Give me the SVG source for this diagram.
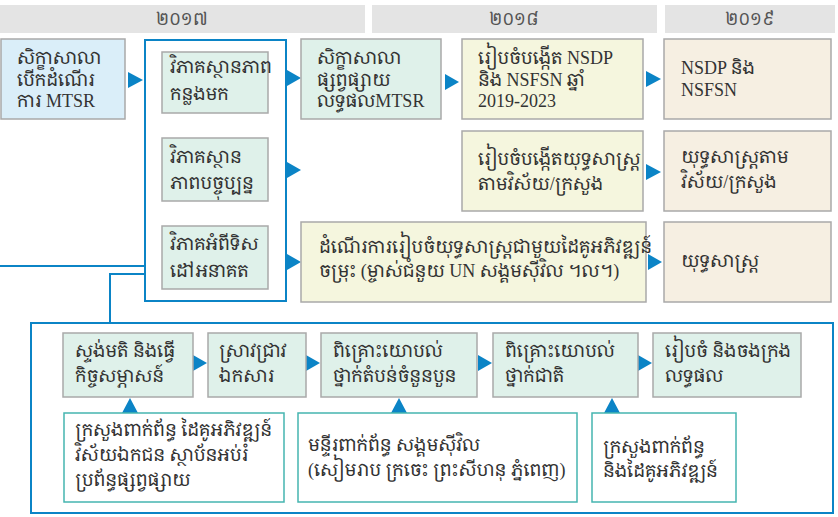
<svg xmlns="http://www.w3.org/2000/svg" width="838" height="517" viewBox="0 0 838 517">
<defs>
<style>
.hdr{fill:#e4e4e4}
.ht{font-family:"Liberation Serif","Noto Serif Khmer","Noto Sans Khmer",serif;font-size:17px;fill:#555;text-anchor:middle}
.t{font-family:"Liberation Serif","Noto Serif Khmer","Noto Sans Khmer","Khmer OS",serif;font-size:18px;fill:#333}
.g{stroke:#a9a9a9;stroke-width:1.5}
.blue{fill:#daeef9}
.mint{fill:#dff1ea}
.yel{fill:#f5f6de}
.bei{fill:#f6efe2}
.teal{fill:#fff;stroke:#45b5b0;stroke-width:1.5}
.ln{fill:none;stroke:#0b84c6;stroke-width:2}
.ar{fill:#0b84c6}
</style>
</defs>
<rect width="838" height="517" fill="#fff"/>
<g id="header">
<rect class="hdr" x="0" y="5" width="365" height="28"/>
<rect class="hdr" x="372" y="5" width="285" height="28"/>
<rect class="hdr" x="665" y="5" width="170" height="28"/>
<text class="ht" x="182" y="25">២០១៧</text>
<text class="ht" x="514" y="25">២០១៨</text>
<text class="ht" x="750" y="25">២០១៩</text>
</g>
<g id="connectors">
<rect class="ln" x="145" y="40" width="141" height="261"/>
<rect class="ln" x="31" y="323" width="802" height="190"/>
<path class="ln" d="M0 266H145M145 274H110V323"/>
<path class="ar" d="M128 72L143 80L128 88Z"/>
<path class="ar" d="M287 70L301 78L287 86Z"/>
<path class="ar" d="M287 162L301 170L287 178Z"/>
<path class="ar" d="M287 254L301 262L287 270Z"/>
<path class="ar" d="M445 74L459 82L445 90Z"/>
<path class="ar" d="M646 71L661 79L646 87Z"/>
<path class="ar" d="M646 164L661 172L646 180Z"/>
<path class="ar" d="M648 254L662 262L648 270Z"/>
<path class="ar" d="M193 355L207 363L193 371Z"/>
<path class="ar" d="M306 355L320 363L306 371Z"/>
<path class="ar" d="M478 355L492 363L478 371Z"/>
<path class="ar" d="M638 355L652 363L638 371Z"/>
<path class="ar" d="M122 413L130 398L138 413Z"/>
<path class="ar" d="M391 413L399 398L407 413Z"/>
<path class="ar" d="M604 413L612 398L620 413Z"/>
</g>
<g id="n1"><rect class="blue g" x="1" y="39" width="124" height="80"/>
<text class="t" x="17" y="64">សិក្ខាសាលា</text><text class="t" x="17" y="86">បើកដំណើរ</text><text class="t" x="17" y="107">ការ MTSR</text></g>
<g id="n2"><rect class="mint g" x="162" y="52" width="106" height="61"/>
<text class="t" x="170" y="73">វិភាគស្ថានភាព</text><text class="t" x="170" y="100">កន្លងមក</text></g>
<g id="n3"><rect class="mint g" x="162" y="138" width="106" height="63"/>
<text class="t" x="170" y="163">វិភាគស្ថាន</text><text class="t" x="170" y="189">ភាពបច្ចុប្បន្ន</text></g>
<g id="n4"><rect class="mint g" x="162" y="226" width="106" height="63"/>
<text class="t" x="170" y="250">វិភាគអំពីទិស</text><text class="t" x="170" y="277">ដៅអនាគត</text></g>
<g id="n5"><rect class="mint g" x="301" y="39" width="140" height="80"/>
<text class="t" x="317" y="64">សិក្ខាសាលា</text><text class="t" x="317" y="86">ផ្សព្វផ្សាយ</text><text class="t" x="317" y="107">លទ្ធផលMTSR</text></g>
<g id="n6"><rect class="yel g" x="462" y="39" width="181" height="80"/>
<text class="t" x="478" y="64">រៀបចំបង្កើត NSDP</text><text class="t" x="478" y="86">និង NSFSN ឆ្នាំ</text><text class="t" x="478" y="107">2019-2023</text></g>
<g id="n7"><rect class="yel g" x="462" y="131" width="181" height="80"/>
<text class="t" x="478" y="165">រៀបចំបង្កើតយុទ្ធសាស្ត្រ</text><text class="t" x="478" y="190">តាមវិស័យ/ក្រសួង</text></g>
<g id="n8"><rect class="bei g" x="664" y="39" width="167" height="80"/>
<text class="t" x="681" y="74">NSDP និង</text><text class="t" x="681" y="96">NSFSN</text></g>
<g id="n9"><rect class="bei g" x="664" y="131" width="167" height="80"/>
<text class="t" x="681" y="163">យុទ្ធសាស្ត្រតាម</text><text class="t" x="681" y="188">វិស័យ/ក្រសួង</text></g>
<g id="n10"><rect class="yel g" x="301" y="222" width="345" height="80"/>
<text class="t" x="319" y="253">ដំណើរការរៀបចំយុទ្ធសាស្ត្រជាមួយដៃគូអភិវឌ្ឍន៍</text><text class="t" x="319" y="277">ចម្រុះ (ម្ចាស់ជំនួយ UN សង្គមស៊ីវិល ។ល។)</text></g>
<g id="n11"><rect class="bei g" x="664" y="222" width="167" height="80"/>
<text class="t" x="681" y="267">យុទ្ធសាស្ត្រ</text></g>
<g id="n12"><rect class="mint g" x="63" y="333" width="130" height="64"/>
<text class="t" x="75" y="357">ស្ទង់មតិ និងធ្វើ</text><text class="t" x="75" y="382">កិច្ចសម្ភាសន៍</text></g>
<g id="n13"><rect class="mint g" x="208" y="333" width="98" height="64"/>
<text class="t" x="219" y="357">ស្រាវជ្រាវ</text><text class="t" x="219" y="382">ឯកសារ</text></g>
<g id="n14"><rect class="mint g" x="321" y="333" width="156" height="64"/>
<text class="t" x="333" y="357">ពិគ្រោះយោបល់</text><text class="t" x="333" y="382">ថ្នាក់តំបន់ចំនួនបួន</text></g>
<g id="n15"><rect class="mint g" x="493" y="333" width="145" height="64"/>
<text class="t" x="505" y="357">ពិគ្រោះយោបល់</text><text class="t" x="505" y="382">ថ្នាក់ជាតិ</text></g>
<g id="n16"><rect class="mint g" x="653" y="333" width="148" height="64"/>
<text class="t" x="665" y="357">រៀបចំ និងចងក្រង</text><text class="t" x="665" y="382">លទ្ធផល</text></g>
<g id="n17"><rect class="teal" x="64" y="413" width="220" height="89"/>
<text class="t" x="75" y="436">ក្រសួងពាក់ព័ន្ធ ដៃគូអភិវឌ្ឍន៍</text><text class="t" x="75" y="461">វិស័យឯកជន ស្ថាប័នអប់រំ</text><text class="t" x="75" y="486">ប្រព័ន្ធផ្សព្វផ្សាយ</text></g>
<g id="n18"><rect class="teal" x="298" y="413" width="279" height="89"/>
<text class="t" x="308" y="451">មន្ទីរពាក់ព័ន្ធ សង្គមស៊ីវិល</text><text class="t" x="308" y="476">(សៀមរាប ក្រចេះ ព្រះសីហនុ ភ្នំពេញ)</text></g>
<g id="n19"><rect class="teal" x="592" y="413" width="144" height="89"/>
<text class="t" x="603" y="453">ក្រសួងពាក់ព័ន្ធ</text><text class="t" x="603" y="477">និងដៃគូអភិវឌ្ឍន៍</text></g>
</svg>
